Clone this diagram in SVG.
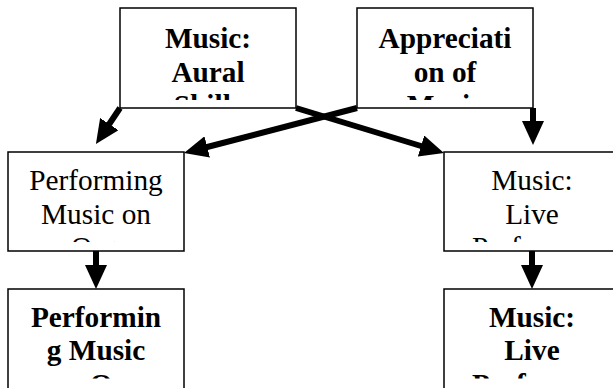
<svg xmlns="http://www.w3.org/2000/svg" width="613" height="388" viewBox="0 0 613 388">
  <style>
    .box { fill: #ffffff; stroke: #000000; stroke-width: 1.5; }
    .t { font-family: "Liberation Serif", "Times New Roman", serif; font-size: 29.3px; fill: #000000; text-anchor: middle; }
    .s { text-anchor: start; }
    .b { font-weight: bold; }
    .conn { stroke: #000000; stroke-width: 6; fill: none; marker-end: url(#ah); }
  </style>
  <defs>
    <marker id="ah" markerUnits="userSpaceOnUse" markerWidth="24" markerHeight="22" refX="12" refY="11" orient="auto">
      <path d="M0,0 L24,11 L0,22 Z" fill="#000000"/>
    </marker>
    <clipPath id="c1"><rect x="122" y="10" width="172" height="90"/></clipPath>
    <clipPath id="c2"><rect x="359" y="10" width="172" height="90"/></clipPath>
    <clipPath id="c3"><rect x="10" y="154" width="172" height="88"/></clipPath>
    <clipPath id="c4"><rect x="446" y="154" width="172" height="88"/></clipPath>
    <clipPath id="c5"><rect x="10" y="291" width="172" height="87.5"/></clipPath>
    <clipPath id="c6"><rect x="446" y="291" width="172" height="87.5"/></clipPath>
  </defs>
  <rect width="613" height="388" fill="#ffffff"/>

  <g id="n1">
    <rect class="box" x="120" y="8" width="176" height="100"/>
    <g clip-path="url(#c1)">
      <text class="t b" x="208" y="48">Music:</text>
      <text class="t b" x="208" y="81.5">Aural</text>
      <text class="t b" x="208" y="115">Skills</text>
    </g>
  </g>

  <g id="n2">
    <rect class="box" x="357" y="8" width="176" height="100"/>
    <g clip-path="url(#c2)">
      <text class="t b" x="445" y="48">Appreciati</text>
      <text class="t b" x="445" y="81.5">on of</text>
      <text class="t b" x="445" y="115">Music</text>
    </g>
  </g>

  <g id="n3">
    <rect class="box" x="8" y="152" width="176" height="99"/>
    <g clip-path="url(#c3)">
      <text class="t" x="96" y="190">Performing</text>
      <text class="t" x="96" y="223.5">Music on</text>
      <text class="t s" x="71" y="257">Organ</text>
    </g>
  </g>

  <g id="n4">
    <rect class="box" x="444" y="152" width="176" height="99"/>
    <g clip-path="url(#c4)">
      <text class="t" x="532" y="190">Music:</text>
      <text class="t" x="532" y="223.5">Live</text>
      <text class="t s" x="472" y="257">Performance</text>
    </g>
  </g>

  <g id="n5">
    <rect class="box" x="8" y="289" width="176" height="100"/>
    <g clip-path="url(#c5)">
      <text class="t b" x="96" y="326.5">Performin</text>
      <text class="t b" x="96" y="360">g Music</text>
      <text class="t b s" x="51.6" y="393.5">on Organ</text>
    </g>
  </g>

  <g id="n6">
    <rect class="box" x="444" y="289" width="176" height="100"/>
    <g clip-path="url(#c6)">
      <text class="t b" x="532" y="326.5">Music:</text>
      <text class="t b" x="532" y="360">Live</text>
      <text class="t b s" x="472" y="393.5">Performance</text>
    </g>
  </g>

  <g id="connectors">
    <line class="conn" x1="120" y1="108" x2="102.6" y2="134"/>
    <line class="conn" x1="296" y1="108" x2="432.5" y2="149.5"/>
    <line class="conn" x1="357" y1="108" x2="195.6" y2="150"/>
    <line class="conn" x1="533" y1="108" x2="533" y2="133"/>
    <line class="conn" x1="96" y1="251" x2="96" y2="277"/>
    <line class="conn" x1="532" y1="251" x2="532" y2="277"/>
  </g>
</svg>
